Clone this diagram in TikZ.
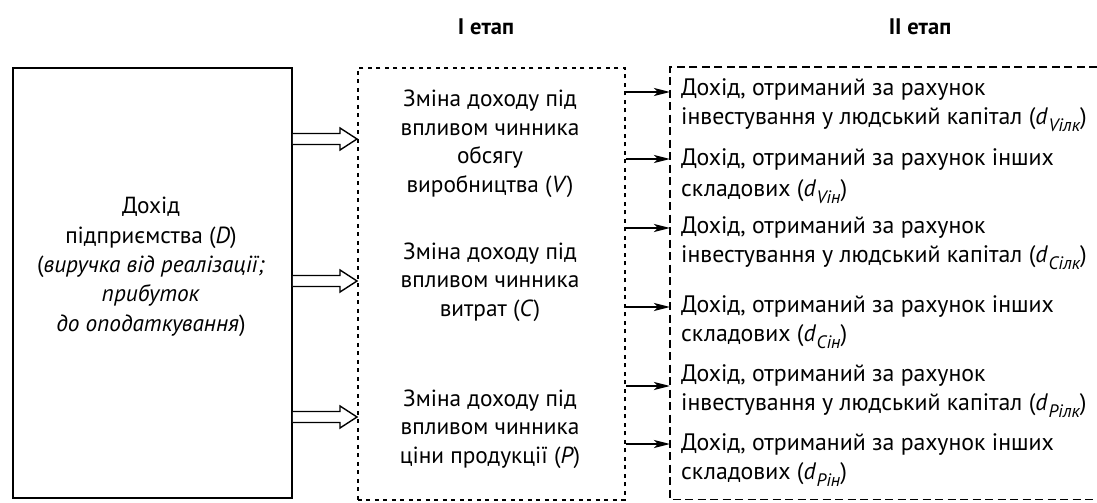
\documentclass[tikz,border=0pt]{standalone}
\usepackage{fontspec}
\setmainfont{PT Sans}
\usetikzlibrary{calc,arrows.meta}
\newcommand{\sub}[1]{\raisebox{-0.3em}{\fontsize{18}{18}\selectfont\itshape #1}}
\newcommand{\dd}[1]{(\textit{d}\kern0.5pt\sub{#1})}
\begin{document}
\begin{tikzpicture}[x=1pt,y=-1pt,
  txt/.style={font=\fontsize{23.3}{28.5}\selectfont, inner sep=0pt},
  rtxt/.style={font=\fontsize{23.8}{28.5}\selectfont, inner sep=0pt},
  ltxt/.style={font=\fontsize{23.3}{29.3}\selectfont, inner sep=0pt},
  head/.style={font=\fontsize{22.5}{24}\selectfont\bfseries, inner sep=0pt},
  solidbox/.style={draw, line width=1.8pt, inner sep=0pt, anchor=north west},
  dotbox/.style={draw, line width=1.8pt, dash pattern=on 4pt off 4.5pt, inner sep=0pt, anchor=north west},
  dashline/.style={line width=1.8pt, dash pattern=on 8pt off 4.5pt},
  hollow/.style={draw, line width=1.4pt, fill=white, line join=miter},
  sarr/.style={line width=2.2pt, -{Stealth[length=16pt,width=8pt,inset=4pt]}}]
\useasboundingbox (0,0) rectangle (1097,503);

% headers
\node[head] (h1) at (486,27) {I етап};
\node[head] (h2) at (920,27) {II етап};

% boxes
\node[solidbox, minimum width=279pt, minimum height=430pt] (L) at (12,67) {};
\node[dotbox, minimum width=267pt, minimum height=432pt] (M) at (357,67) {};
\node[inner sep=0pt, anchor=north west, minimum width=427pt, minimum height=432pt] (R) at (670,67) {};
\draw[dashline] (R.north east) -- (R.north west) -- (R.south west) -- (R.south east);

% left text
\node[ltxt, align=center, anchor=base] (lt) at (151,331)
  {Дохід\\ підприємства (\textit{D})\\ (\textit{виручка від реалізації;}\\ \textit{прибуток}\\ \textit{до оподаткування})};

% middle texts
\node[txt, align=center, anchor=base] (m1) at (490,192)
  {Зміна доходу під\\ впливом чинника\\ обсягу\\ виробництва (\textit{V})};
\node[txt, align=center, anchor=base] (m2) at (490,316)
  {Зміна доходу під\\ впливом чинника\\ витрат (\textit{C})};
\node[txt, align=center, anchor=base] (m3) at (490,463)
  {Зміна доходу під\\ впливом чинника\\ ціни продукції (\textit{P})};

% right texts
\node[rtxt, align=left, anchor=base west] (r1) at (681,124)
  {Дохід, отриманий за рахунок\\ інвестування у людський капітал \dd{Vілк}};
\node[rtxt, align=left, anchor=base west] (r2) at (681,196)
  {Дохід, отриманий за рахунок інших\\[2.5pt] складових \dd{Vін}};
\node[rtxt, align=left, anchor=base west] (r3) at (681,262)
  {Дохід, отриманий за рахунок\\ інвестування у людський капітал \dd{Cілк}};
\node[rtxt, align=left, anchor=base west] (r4) at (681,341)
  {Дохід, отриманий за рахунок інших\\ складових \dd{Cін}};
\node[rtxt, align=left, anchor=base west] (r5) at (681,410)
  {Дохід, отриманий за рахунок\\ інвестування у людський капітал \dd{Pілк}};
\node[rtxt, align=left, anchor=base west] (r6) at (681,479)
  {Дохід, отриманий за рахунок інших\\ складових \dd{Pін}};

% hollow arrows
\foreach \yy/\nm in {139/a, 281/b, 417/c} {
  \coordinate (\nm s) at (L.east |- 0,\yy);
  \coordinate (\nm e) at (M.west |- 0,\yy);
  \draw[hollow] ($(\nm s)+(0,-5.5)$) -- ($(\nm e)+(-17,-5.5)$) -- ($(\nm e)+(-17,-11)$)
     -- (\nm e) -- ($(\nm e)+(-17,11)$) -- ($(\nm e)+(-17,5.5)$) -- ($(\nm s)+(0,5.5)$);
}

% small arrows
\foreach \yy in {92,159,228,307,386,444} {
  \draw[sarr] (M.east |- 0,\yy) -- (R.west |- 0,\yy);
}
\end{tikzpicture}
\end{document}
